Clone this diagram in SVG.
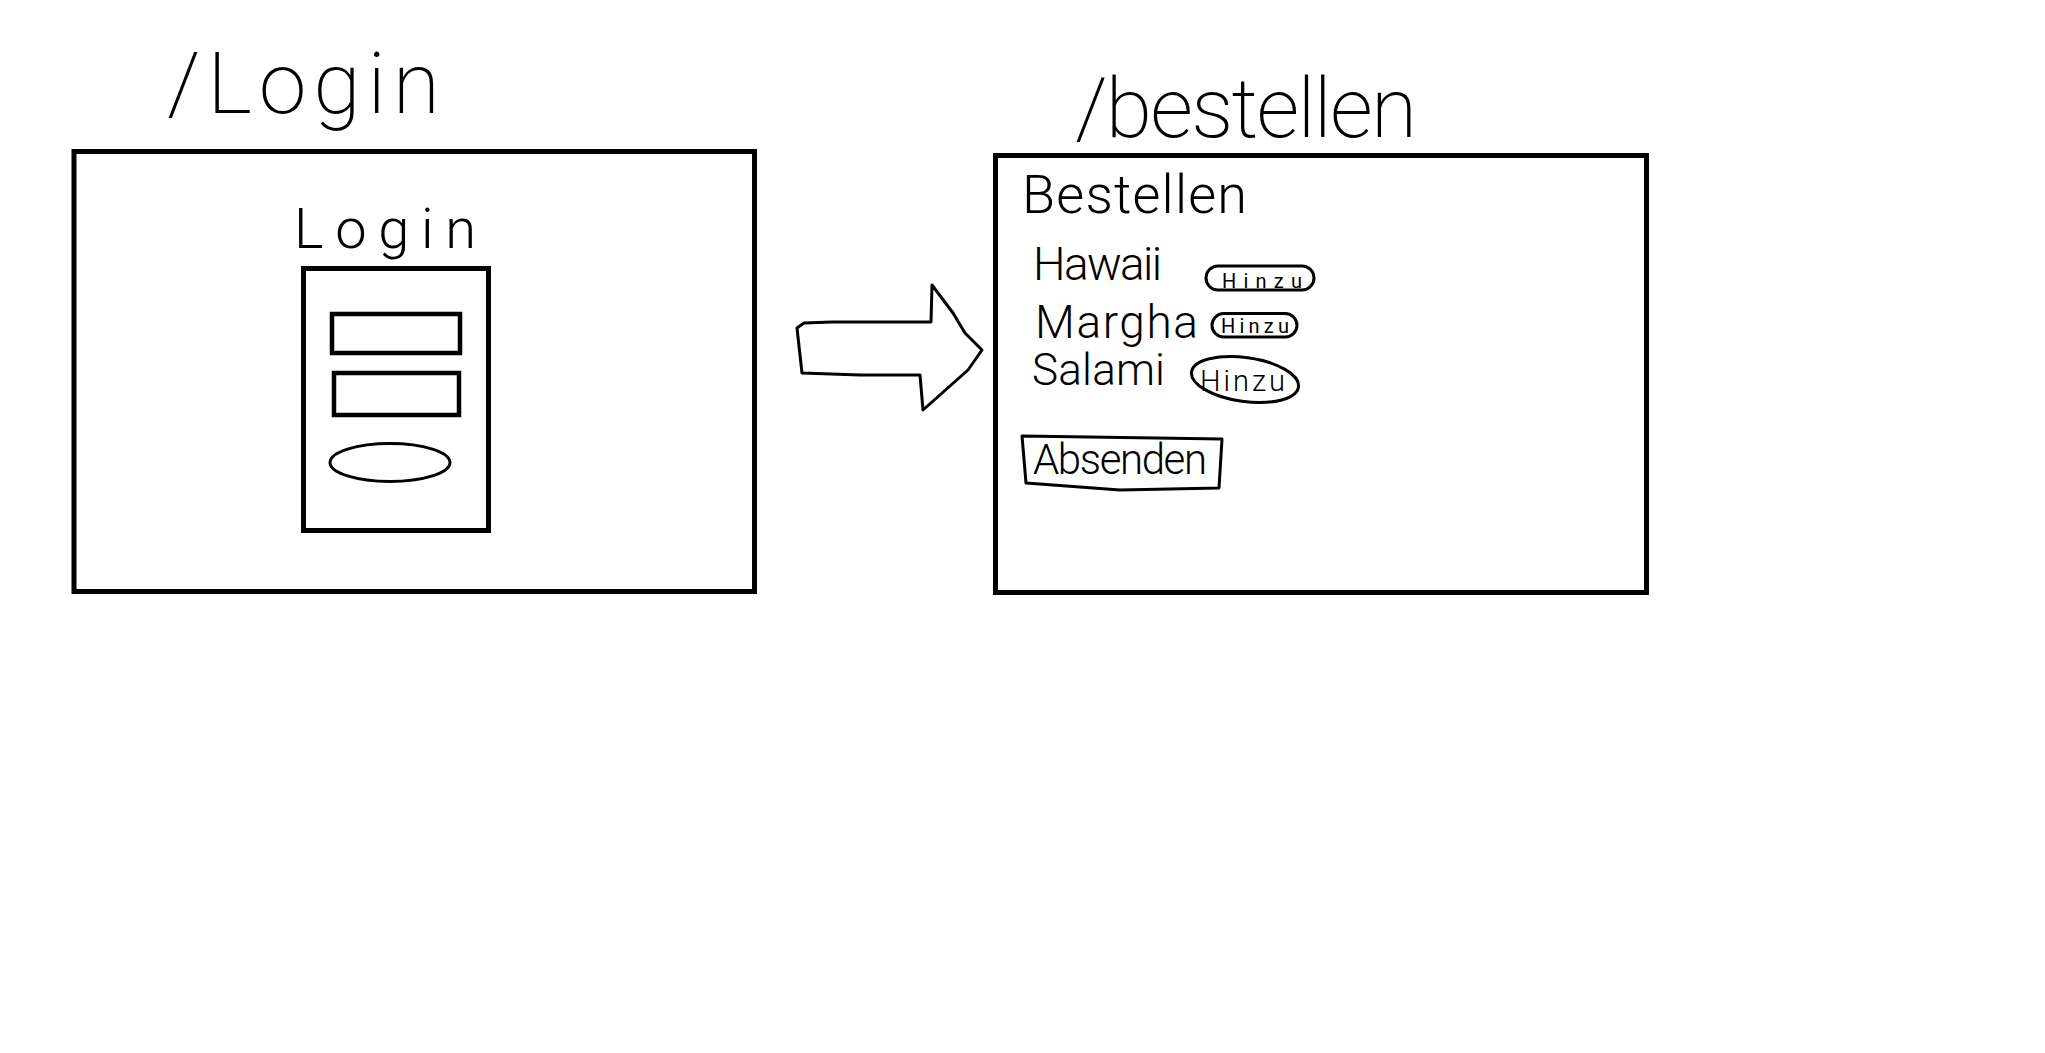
<svg xmlns="http://www.w3.org/2000/svg" width="2045" height="1053" viewBox="0 0 2045 1053">
  <style>
    .frame { fill: none; stroke: #000; stroke-width: 5; }
    .field { fill: none; stroke: #000; stroke-width: 4.5; }
    .sketch { fill: none; stroke: #000; stroke-width: 3; stroke-linejoin: round; stroke-linecap: round; }
    .hand { font-family: Roboto, "Open Sans", "Liberation Sans", sans-serif; font-weight: 300; fill: #000; }
    .title { font-weight: 200; }
    .small { font-weight: 400; }
  </style>
  <rect width="2045" height="1053" fill="#fff"/>

  <g id="title-login">
    <text class="hand title" x="167" y="113" font-size="86" textLength="273" lengthAdjust="spacing">/Login</text>
  </g>

  <g id="title-bestellen">
    <text class="hand title" x="1075" y="137" font-size="84" textLength="342" lengthAdjust="spacing">/bestellen</text>
  </g>

  <g id="login-screen">
    <rect class="frame" x="74" y="151.5" width="680.5" height="440"/>
    <text class="hand" x="294" y="248" font-size="56" textLength="182" lengthAdjust="spacing">Login</text>
    <g id="login-form">
      <rect class="frame" x="303.5" y="268.5" width="185" height="262"/>
      <rect class="field" x="332" y="314" width="128" height="39"/>
      <rect class="field" x="334" y="373" width="125" height="42"/>
      <ellipse class="sketch" cx="390" cy="462.5" rx="60" ry="19"/>
    </g>
  </g>

  <g id="bestellen-screen">
    <rect class="frame" x="995.5" y="155.5" width="651" height="437"/>
    <text class="hand" x="1022" y="213" font-size="54" textLength="225" lengthAdjust="spacing">Bestellen</text>

    <g id="item-hawaii">
      <text class="hand" x="1033" y="280" font-size="46" textLength="129" lengthAdjust="spacing">Hawaii</text>
      <rect class="sketch" x="1206" y="266" width="108" height="24" rx="12" ry="12"/>
      <text class="hand small" x="1222" y="288" font-size="20" textLength="80" lengthAdjust="spacing">Hinzu</text>
    </g>

    <g id="item-margha">
      <text class="hand" x="1035" y="338" font-size="46" textLength="163" lengthAdjust="spacing">Margha</text>
      <rect class="sketch" x="1212" y="313.5" width="85" height="23.5" rx="11.75" ry="11.75"/>
      <text class="hand small" x="1221" y="333" font-size="20" textLength="68" lengthAdjust="spacing">Hinzu</text>
    </g>

    <g id="item-salami">
      <text class="hand" x="1032" y="385" font-size="44" textLength="133" lengthAdjust="spacing">Salami</text>
      <ellipse class="sketch" cx="1245" cy="379.5" rx="54" ry="22" transform="rotate(8 1245 379.5)"/>
      <text class="hand" x="1200" y="391" font-size="29" textLength="85" lengthAdjust="spacing">Hinzu</text>
    </g>

    <g id="button-absenden">
      <path class="sketch" d="M1022,436 L1222,439 L1219,488 L1120,490 L1026,483 Z"/>
      <text class="hand" x="1033" y="474" font-size="42" textLength="174" lengthAdjust="spacing">Absenden</text>
    </g>
  </g>

  <g id="connectors">
    <path id="arrow-login-to-bestellen" class="sketch" d="M804,323 L832,322 L931,322 L932,285 L953,313 L965,333 L982,350 L968,370 L923,410 L920,375 L860,375 L802,373 L797,328 Z"/>
  </g>
</svg>
